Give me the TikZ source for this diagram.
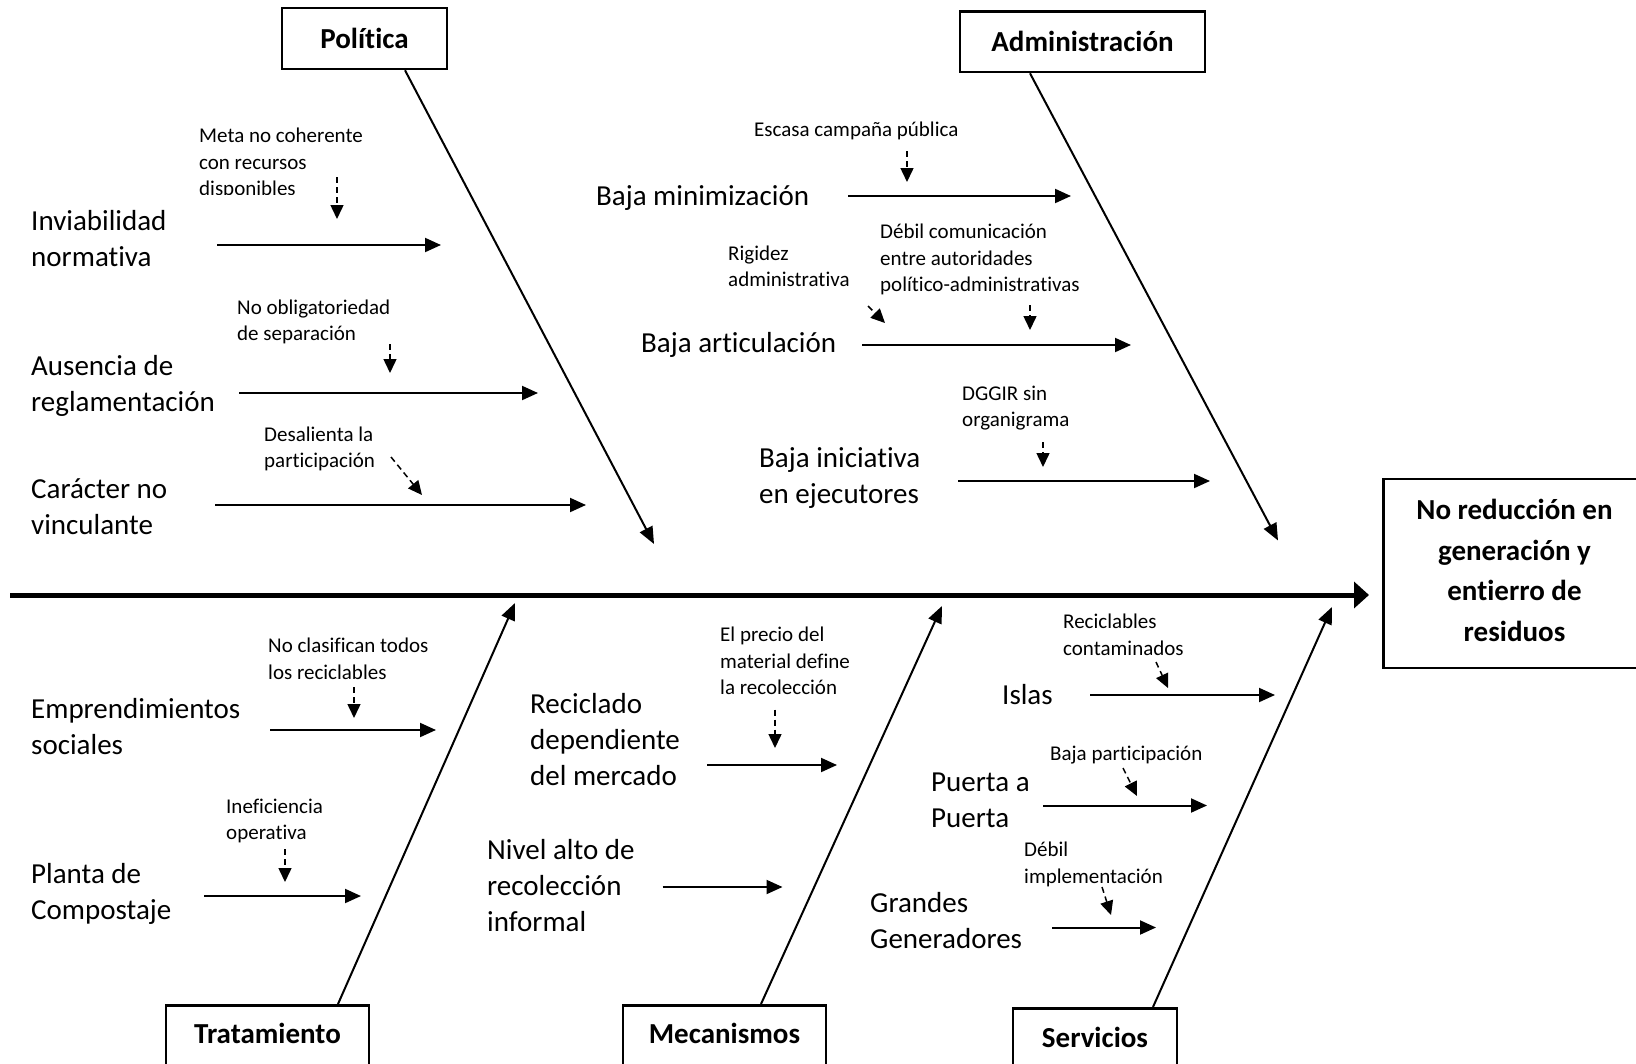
\documentclass[tikz,border=0pt]{standalone}
\usepackage{fontspec}
\setmainfont{Carlito}[Ligatures={NoCommon,NoRequired,NoContextual}]
\usetikzlibrary{arrows.meta}
\begin{document}
\begin{tikzpicture}[x=1pt,y=-1pt,
  cause/.style={font=\fontsize{29}{36}\selectfont, align=left, anchor=west, inner sep=0pt},
  sub/.style={font=\fontsize{21}{26.5}\selectfont, align=left, anchor=west, inner sep=0pt},
  catbox/.style={draw, line width=2.5pt, font=\bfseries\fontsize{29}{35}\selectfont},
  arr/.style={line width=2pt, -{Triangle[length=16pt,width=14pt]}},
  bone/.style={line width=2pt, -{Triangle[length=17pt,width=14pt]}},
  darr/.style={line width=1.5pt, dash pattern=on 6pt off 4pt, -{Triangle[length=14pt,width=13pt]}},
  spine/.style={line width=5pt, -{Triangle[length=15pt,width=26pt]}}]
\useasboundingbox (0,0) rectangle (1636,1063);

% effect
\node[draw, line width=2.5pt, minimum width=263pt, minimum height=189pt, inner sep=0pt, anchor=west] (res) at (1382,573.5) {};
\node[align=center, inner sep=0pt, font=\bfseries\fontsize{29}{40.5}\selectfont] (resT) at (1514.5,570.5)
      {No reducción en\\generación y\\entierro de\\residuos};

% category boxes
\node[catbox, minimum width=165pt, minimum height=61pt] (pol) at (364.5,38.5) {Política};
\node[catbox, minimum width=245pt, minimum height=60.5pt] (adm) at (1082.5,41.8) {Administración};
\node[catbox, minimum width=203pt, text height=38pt, text depth=30pt, inner ysep=0pt, anchor=north] (tra) at (267.5,1004) {Tratamiento};
\node[catbox, minimum width=203pt, text height=38pt, text depth=30pt, inner ysep=0pt, anchor=north] (mec) at (724.5,1004) {Mecanismos};
\node[catbox, minimum width=164pt, text height=39pt, text depth=30pt, inner ysep=0pt, anchor=north] (ser) at (1095,1007) {Servicios};

% spine
\coordinate (sp0) at (10.4,595);
\coordinate (sp1) at (1369,595);
\draw[spine] (sp0) -- (sp1);

% bones
\coordinate (polT) at (654,544);
\coordinate (admT) at (1278,540.5);
\coordinate (traT) at (515,603);
\coordinate (mecT) at (942,606);
\coordinate (serT) at (1332,607);
\draw[bone] ([xshift=40.5pt]pol.south) -- (polT);
\draw[bone] ([xshift=-52.5pt]adm.south) -- (admT);
\draw[bone] ([xshift=70.5pt]tra.north) -- (traT);
\draw[bone] ([xshift=36.5pt]mec.north) -- (mecT);
\draw[bone] ([xshift=58pt]ser.north) -- (serT);

% ---- Politica
\node[cause] (c1) at (31,238.5) {Inviabilidad\\normativa};
\coordinate (c1a) at (217,245); \coordinate (c1b) at (441,245);
\draw[arr] (c1a) -- (c1b);
\begin{scope}
  \clip (150,100) rectangle (420,194);
  \node[sub] (s1) at (199,163.5) {Meta no coherente\\con recursos\\disponibles};
\end{scope}
\coordinate (s1a) at (337,177); \coordinate (s1b) at (337,219);
\draw[darr] (s1a) -- (s1b);

\node[cause] (c2) at (31,385.5) {Ausencia de\\reglamentación};
\coordinate (c2a) at (239,393); \coordinate (c2b) at (538,393);
\draw[arr] (c2a) -- (c2b);
\node[sub] (s2) at (237,322) {No obligatoriedad\\de separación};
\coordinate (s2a) at (390,344); \coordinate (s2b) at (390,373);
\draw[darr] (s2a) -- (s2b);

\node[cause] (c3) at (31,506.5) {Carácter no\\vinculante};
\coordinate (c3a) at (215,505); \coordinate (c3b) at (586,505);
\draw[arr] (c3a) -- (c3b);
\node[sub] (s3) at (264,449) {Desalienta la\\participación};
\coordinate (s3a) at (391,457); \coordinate (s3b) at (422,495);
\draw[darr] (s3a) -- (s3b);

% ---- Administracion
\node[cause] (c4) at (596,198) {Baja minimización};
\coordinate (c4a) at (848,196); \coordinate (c4b) at (1071,196);
\draw[arr] (c4a) -- (c4b);
\node[sub] (s4) at (754,131) {Escasa campaña pública};
\coordinate (s4a) at (907,151); \coordinate (s4b) at (907,182);
\draw[darr] (s4a) -- (s4b);

\node[cause] (c5) at (641,345) {Baja articulación};
\coordinate (c5a) at (862,345); \coordinate (c5b) at (1131,345);
\draw[arr] (c5a) -- (c5b);
\node[sub] (s5) at (728,266.5) {Rigidez\\administrativa};
\coordinate (s5a) at (868,306); \coordinate (s5b) at (885,323);
\draw[darr] (s5a) -- (s5b);
\node[sub] (s6) at (880,259.5) {Débil comunicación\\entre autoridades\\político-administrativas};
\coordinate (s6a) at (1030,305); \coordinate (s6b) at (1030,330);
\draw[darr] (s6a) -- (s6b);

\node[cause] (c6) at (759,478.5) {Baja iniciativa\\en ejecutores};
\coordinate (c6a) at (958,481); \coordinate (c6b) at (1210,481);
\draw[arr] (c6a) -- (c6b);
\node[sub] (s7) at (962,408) {DGGIR sin\\organigrama};
\coordinate (s7a) at (1043,442); \coordinate (s7b) at (1043,467);
\draw[darr] (s7a) -- (s7b);

% ---- Tratamiento
\node[cause] (c7) at (31,727) {Emprendimientos\\sociales};
\coordinate (c7a) at (270,730); \coordinate (c7b) at (436,730);
\draw[arr] (c7a) -- (c7b);
\node[sub] (s8) at (268,659) {No clasifican todos\\los reciclables};
\coordinate (s8a) at (354,687); \coordinate (s8b) at (354,718);
\draw[darr] (s8a) -- (s8b);

\node[cause] (c8) at (31,893.5) {Planta de\\Compostaje};
\coordinate (c8a) at (204,896); \coordinate (c8b) at (361,896);
\draw[arr] (c8a) -- (c8b);
\node[sub] (s9) at (226,821) {Ineficiencia\\operativa};
\coordinate (s9a) at (285,849); \coordinate (s9b) at (285,882);
\draw[darr] (s9a) -- (s9b);

% ---- Mecanismos
\node[cause] (c9) at (530,739.5) {Reciclado\\dependiente\\del mercado};
\coordinate (c9a) at (707,765); \coordinate (c9b) at (837,765);
\draw[arr] (c9a) -- (c9b);
\node[sub] (s10) at (720,661) {El precio del\\material define\\la recolección};
\coordinate (s10a) at (775,709.5); \coordinate (s10b) at (775,748);
\draw[darr] (s10a) -- (s10b);

\node[cause] (c10) at (487,886) {Nivel alto de\\recolección\\informal};
\coordinate (c10a) at (662.5,887); \coordinate (c10b) at (782.5,887);
\draw[arr] (c10a) -- (c10b);

% ---- Servicios
\node[cause] (c11) at (1002,695) {Islas};
\coordinate (c11a) at (1090,695); \coordinate (c11b) at (1275,695);
\draw[arr] (c11a) -- (c11b);
\node[sub] (s11) at (1063,635) {Reciclables\\contaminados};
\coordinate (s11a) at (1156,662); \coordinate (s11b) at (1168,688);
\draw[darr] (s11a) -- (s11b);

\node[cause] (c12) at (931,800.5) {Puerta a\\Puerta};
\coordinate (c12a) at (1043,805.5); \coordinate (c12b) at (1207,805.5);
\draw[arr] (c12a) -- (c12b);
\node[sub] (s12) at (1050,755) {Baja participación};
\coordinate (s12a) at (1123,768); \coordinate (s12b) at (1137,796);
\draw[darr] (s12a) -- (s12b);

\node[cause] (c13) at (870,920.5) {Grandes\\Generadores};
\coordinate (c13a) at (1052,927.5); \coordinate (c13b) at (1156,927.5);
\draw[arr] (c13a) -- (c13b);
\node[sub] (s13) at (1024,864.2) {Débil\\implementación};
\coordinate (s13a) at (1102,887); \coordinate (s13b) at (1111,915);
\draw[darr] (s13a) -- (s13b);
\end{tikzpicture}
\end{document}
